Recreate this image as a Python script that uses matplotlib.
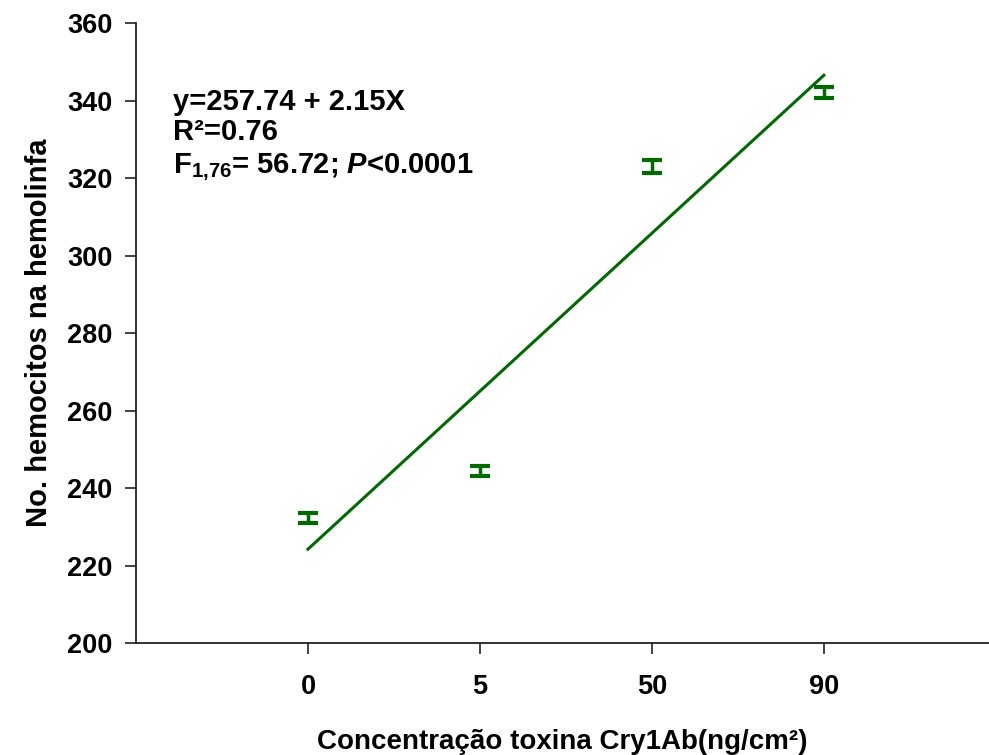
import numpy as np
import matplotlib.pyplot as plt

plt.rcParams['font.family'] = ['Liberation Sans', 'DejaVu Sans']
plt.rcParams['font.weight'] = 'bold'
plt.rcParams['mathtext.fontset'] = 'custom'
plt.rcParams['mathtext.rm'] = 'Liberation Sans:bold'
plt.rcParams['mathtext.bf'] = 'Liberation Sans:bold'
plt.rcParams['mathtext.it'] = 'Liberation Sans:bold:italic'

# dados
concentracoes = ['0', '5', '50', '90']
medias = [232.3, 244.3, 322.9, 342.0]
erros = [1.3, 1.3, 1.7, 1.4]

verde = '#006a00'

fig = plt.figure(figsize=(9.89, 7.55), dpi=100)
ax = fig.add_axes([0.1375, 0.1483, 0.8625, 0.8212])

x = np.arange(len(concentracoes))
ax.errorbar(x, medias, yerr=erros, fmt='none', ecolor=verde, elinewidth=2.5,
            capsize=7, capthick=3)

# reta de regressao (ajustada sobre as posicoes)
b, a = np.polyfit(x, medias, 1)
ax.plot(x[[0, -1]], a + b * x[[0, -1]], color=verde, lw=2.2)

ax.set_xlim(-1.0, 3.96)
ax.set_ylim(200, 360)
ax.set_xticks(x)
ax.set_xticklabels(concentracoes)
ax.set_yticks(np.arange(200, 361, 20))

for s in ['top', 'right']:
    ax.spines[s].set_visible(False)
for s in ['left', 'bottom']:
    ax.spines[s].set_linewidth(1.3)
    ax.spines[s].set_color('#222222')

ax.tick_params(axis='both', direction='out', length=8, width=1.2,
               labelsize=19.5, color='#222222')
ax.tick_params(axis='x', pad=14)
ax.tick_params(axis='y', pad=9)

ax.set_xlabel('Concentração toxina Cry1Ab(ng/cm²)', fontsize=20, fontweight='bold', labelpad=21)
ax.set_ylabel('No. hemocitos na hemolinfa', fontsize=21, fontweight='bold', labelpad=10)

ax.text(0.043, 0.873, 'y=257.74 + 2.15X', transform=ax.transAxes, fontsize=21,
        fontweight='bold', va='center')
ax.text(0.043, 0.825, 'R²=0.76', transform=ax.transAxes, fontsize=21,
        fontweight='bold', va='center')
ax.text(0.043, 0.768, r'$\mathrm{F_{1{,}76}}$= 56.72; $P$<0.0001', transform=ax.transAxes,
        fontsize=21, fontweight='bold', va='center')

fig.savefig('out.png', dpi=100)
